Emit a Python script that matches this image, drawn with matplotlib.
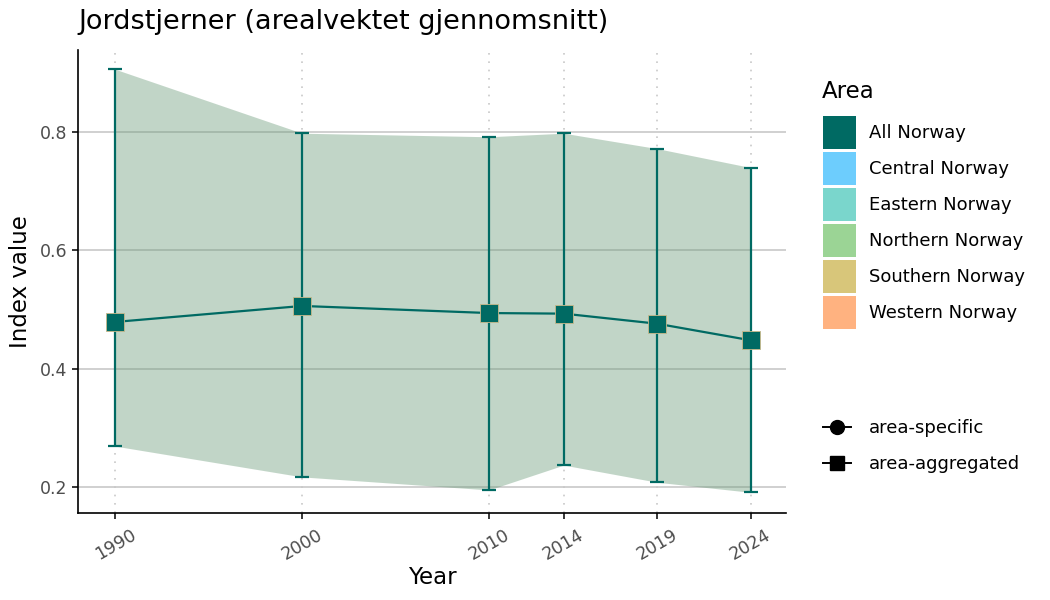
import matplotlib.pyplot as plt
from matplotlib.patches import Patch
from matplotlib.lines import Line2D

# data
years = [1990, 2000, 2010, 2014, 2019, 2024]
mean_vals = [0.479, 0.506, 0.494, 0.493, 0.476, 0.448]
upper_vals = [0.906, 0.798, 0.792, 0.798, 0.772, 0.740]
lower_vals = [0.269, 0.217, 0.195, 0.237, 0.208, 0.191]

areas = ["All Norway", "Central Norway", "Eastern Norway",
         "Northern Norway", "Southern Norway", "Western Norway"]
area_colors = ["#006a63", "#6dcdfd", "#7ad6cc", "#9bd495", "#d8c67a", "#ffb280"]

line_col = "#006a63"

fig = plt.figure(figsize=(10.5, 6), dpi=100)
ax = fig.add_axes([0.0743, 0.145, 0.6743, 0.772])

# semi-transparent ribbon so the grid shows through
ax.fill_between(years, lower_vals, upper_vals, color="#669875", alpha=0.4, lw=0, zorder=2)
ax.errorbar(years, mean_vals,
            yerr=[[m - l for m, l in zip(mean_vals, lower_vals)],
                  [u - m for m, u in zip(mean_vals, upper_vals)]],
            fmt="none", ecolor=line_col, elinewidth=1.6, capsize=5, capthick=1.6, zorder=3)
ax.plot(years, mean_vals, color=line_col, lw=1.6, zorder=4)
ax.plot(years, mean_vals, ls="none", marker="s", ms=12.5, mfc=line_col,
        mec="#c9b98a", mew=0.6, zorder=5)

ax.set_xlim(1988.0, 2025.9)
ax.set_ylim(0.156, 0.939)
ax.set_xticks(years)
ax.set_yticks([0.2, 0.4, 0.6, 0.8])
ax.set_yticklabels(["0.2", "0.4", "0.6", "0.8"])
ax.grid(axis="y", color="#c8c8c8", lw=1.2, zorder=1)
for yr in years:
    ax.axvline(yr, color="#c8c8c8", lw=1.2, ls=(0, (1, 4)), zorder=1)
ax.set_axisbelow(True)

for s in ["top", "right"]:
    ax.spines[s].set_visible(False)
for s in ["left", "bottom"]:
    ax.spines[s].set_linewidth(1.2)
ax.tick_params(axis="both", labelsize=12.5, labelcolor="#4d4d4d", color="black",
               length=4, width=1.1)
ax.tick_params(axis="x", pad=5)
plt.setp(ax.get_xticklabels(), rotation=30, ha="center", va="top")

ax.set_xlabel("Year", fontsize=16.5, labelpad=2)
ax.set_ylabel("Index value", fontsize=16.5, labelpad=6)
fig.text(0.0743, 0.963, "Jordstjerner (arealvektet gjennomsnitt)", fontsize=19.5, va="center")

# legend for areas (title placed separately to control the gap)
fig.text(0.783, 1 - 92 / 600, "Area", fontsize=16.5, va="center")
area_handles = [Patch(facecolor=c, edgecolor="none") for c in area_colors]
fig.legend(area_handles, areas, loc="upper left",
           bbox_to_anchor=(0.7835, 1 - 116 / 600), frameon=False, fontsize=13,
           handlelength=1.83, handleheight=2.43, borderpad=0,
           handletextpad=0.72, labelspacing=0.17, borderaxespad=0)
shape_handles = [
    Line2D([0], [0], color="black", lw=1.4, marker="o", ms=10),
    Line2D([0], [0], color="black", lw=1.4, marker="s", ms=10),
]
fig.legend(shape_handles, ["area-specific", "area-aggregated"], loc="upper left",
           bbox_to_anchor=(0.7835, 0.3017), frameon=False, fontsize=13, borderpad=0,
           handlelength=1.55, handletextpad=1.0, labelspacing=1.01, borderaxespad=0)

fig.savefig("out.png", dpi=100)
